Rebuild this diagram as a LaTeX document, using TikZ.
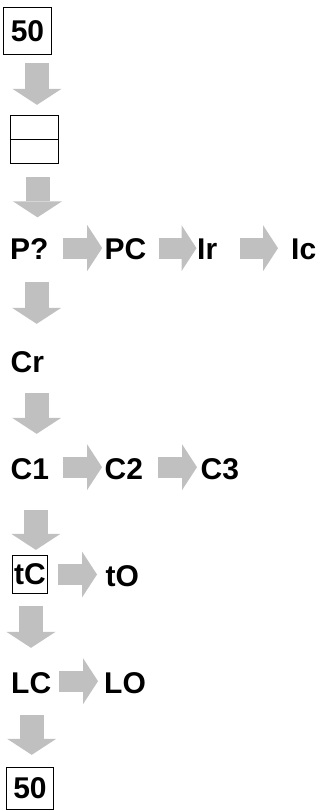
\documentclass[tikz,border=0pt]{standalone}
\usepackage{fontspec}
\setmainfont{Liberation Sans}
\usetikzlibrary{arrows.meta}
\definecolor{arrowgray}{RGB}{192,192,192}
\begin{document}
\begin{tikzpicture}[x=1pt,y=-1pt,
  bigfont/.style={font=\fontsize{30}{36}\selectfont\bfseries},
  txt/.style={bigfont, inner sep=0pt, anchor=base west},
  box/.style={bigfont, draw=black, line width=1.3pt, inner sep=0pt},
  vblk/.style={draw=arrowgray, line width=24pt,
    -{Triangle[width=49pt,length=16pt,line width=0pt,fill=arrowgray]}},
  hblk/.style={draw=arrowgray, line width=21pt,
    -{Triangle[width=46pt,length=15pt,line width=0pt,fill=arrowgray]}}]
\useasboundingbox (0,0) rectangle (325,811);

% nodes
\node[box, minimum width=48pt, minimum height=47pt] (top50) at (27.5,31) {50};
\node[box, minimum width=48pt, minimum height=48pt] (split) at (34.5,139.5) {};
\draw[line width=1.3pt] (split.west) -- (split.east);

\node[txt] (P)  at (10,259.5) {P?};
\node[txt] (PC) at (104.5,259.5) {PC};
\node[txt] (Ir) at (197,259.5) {Ir};
\node[txt] (Ic) at (291,259.5) {Ic};

\node[txt] (Cr) at (10.5,372) {Cr};

\node[txt] (C1) at (10.5,479) {C1};
\node[txt] (C2) at (104.5,479) {C2};
\node[txt] (C3) at (200.5,479) {C3};

\node[box, line width=1.2pt, minimum width=35pt, minimum height=38pt] (tC) at (30,574.5) {tC};
\node[txt] (tO) at (105.5,586) {tO};

\node[txt] (LC) at (11,693) {LC};
\node[txt] (LO) at (104,693) {LO};

\node[box, minimum width=47pt, minimum height=42pt] (bot50) at (30,788.5) {50};

% vertical arrows
\draw[vblk, shorten <=8pt, shorten >=10pt]
  ([xshift=9.5pt]top50.south) -- ([xshift=9.5pt]top50.south |- split.north);
\draw[vblk, shorten <=13pt, shorten >=21pt]
  ([xshift=3pt]split.south) -- ([xshift=3pt]split.south |- P.north);
\draw[vblk, shorten <=22pt, shorten >=27pt]
  ([xshift=7.3pt]P.south) -- ([xshift=7.3pt]P.south |- Cr.north);
\draw[vblk, shorten <=20.5pt, shorten >=24pt]
  ([xshift=9.3pt]Cr.south) -- ([xshift=9.3pt]Cr.south |- C1.north);
\draw[vblk, shorten <=30.5pt, shorten >=5pt]
  ([xshift=6pt]C1.south) -- ([xshift=6pt]C1.south |- tC.north);
\draw[vblk, shorten <=12pt, shorten >=24pt]
  ([xshift=1pt]tC.south) -- ([xshift=1pt]tC.south |- LC.north);
\draw[vblk, shorten <=21.5pt, shorten >=12pt]
  ([xshift=0.5pt]LC.south) -- ([xshift=0.5pt]LC.south |- bot50.north);

% horizontal arrows
\draw[hblk, shorten <=14.5pt, shorten >=2.3pt]
  ([yshift=1pt]P.east) -- ([yshift=1pt]P.east -| PC.west);
\draw[hblk, shorten <=12.3pt, shorten >=0.5pt]
  ([yshift=1pt]PC.east) -- ([yshift=1pt]PC.east -| Ir.west);
\draw[hblk, shorten <=22.5pt, shorten >=13pt]
  ([yshift=1pt]Ir.east) -- ([yshift=1pt]Ir.east -| Ic.west);
\draw[hblk, shorten <=14.2pt, shorten >=2.5pt]
  ([yshift=1.5pt]C1.east) -- ([yshift=1.5pt]C1.east -| C2.west);
\draw[hblk, shorten <=15.2pt, shorten >=3.5pt]
  ([yshift=1.5pt]C2.east) -- ([yshift=1.5pt]C2.east -| C3.west);
\draw[hblk, shorten <=10pt, shorten >=8.5pt]
  (tC.east) -- (tC.east -| tO.west);
\draw[hblk, shorten <=8pt, shorten >=6pt]
  ([yshift=1.5pt]LC.east) -- ([yshift=1.5pt]LC.east -| LO.west);
\end{tikzpicture}
\end{document}
